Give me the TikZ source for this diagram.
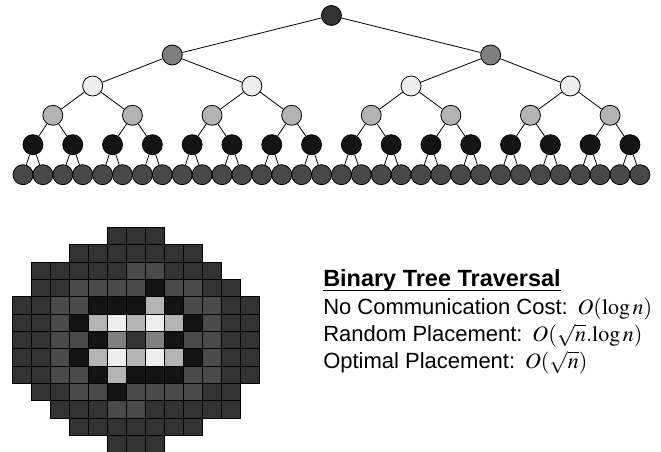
\documentclass[tikz,border=0pt]{standalone}
\usepackage{mathptmx}
\usepackage[no-math]{fontspec}
\usepackage{xcolor}
\newfontfamily\arialfont{Liberation Sans}

\definecolor{tr0}{HTML}{333333}
\definecolor{tr1}{HTML}{7F7F7F}
\definecolor{tr2}{HTML}{EEEEEE}
\definecolor{tr3}{HTML}{B3B3B3}
\definecolor{tr4}{HTML}{141414}
\definecolor{tr5}{HTML}{484848}
\definecolor{gd}{HTML}{333333}
\definecolor{gm}{HTML}{4A4A4A}
\definecolor{gk}{HTML}{141414}
\definecolor{gl}{HTML}{B4B4B4}
\definecolor{gw}{HTML}{EEEEEE}
\definecolor{gg}{HTML}{808080}

\tikzset{
	vertex/.style={circle, draw=black, line width=0.6pt, minimum size=15pt, inner sep=0pt},
	branch/.style={line width=0.6pt},
	cell/.style={draw=black, line width=0.6pt},
	cost/.style={anchor=base west, inner sep=0pt, font=\arialfont\fontsize{16.5}{20}\selectfont},
}

\begin{document}
\begin{tikzpicture}[x=0.75pt, y=-0.75pt]
			\useasboundingbox (0,0) rectangle (661,452);
			% tree, level by level
			\foreach \lev/\yy/\col in {0/15.5/tr0, 1/55/tr1, 2/86/tr2, 3/115.3/tr3, 4/144.7/tr4, 5/174.7/tr5} {
				\pgfmathtruncatemacro{\num}{2^\lev-1}
				\pgfmathtruncatemacro{\cover}{2^(5-\lev)}
				\foreach \i in {0,...,\num} {
					\pgfmathsetmacro{\xx}{23+19.9*(\i*\cover+(\cover-1)/2)}
					\node[vertex, fill=\col] (n-\lev-\i) at (\xx,\yy) {};
				}
			}
			\foreach \lev in {0,...,4} {
				\pgfmathtruncatemacro{\num}{2^\lev-1}
				\pgfmathtruncatemacro{\nlev}{\lev+1}
				\foreach \i in {0,...,\num} {
					\pgfmathtruncatemacro{\a}{2*\i}
					\pgfmathtruncatemacro{\b}{2*\i+1}
					\draw[branch] (n-\lev-\i) -- (n-\nlev-\a);
					\draw[branch] (n-\lev-\i) -- (n-\nlev-\b);
				}
			}
			% mesh placement
			\foreach \r/\s/\cells in {
					0/5/{d,d,d},
					1/3/{d,d,d,d,d,d,d},
					2/1/{d,d,d,d,d,m,m,d,d,d},
					3/1/{d,d,m,m,m,m,k,m,m,d,d},
					4/0/{d,d,m,m,k,k,k,l,k,m,m,d,d},
					5/0/{d,d,m,k,l,w,l,w,l,k,m,d,d},
					6/0/{d,d,m,m,k,g,d,g,k,m,m,d,d},
					7/0/{d,d,m,k,l,w,l,w,l,k,m,d,d},
					8/0/{d,d,m,m,k,l,k,k,k,m,m,d,d},
					9/1/{d,d,m,m,k,m,m,m,m,d,d},
					10/2/{d,d,d,m,m,d,d,d,d,d},
					11/3/{d,d,d,d,d,d,d},
					12/5/{d,d,d}} {
				\foreach \c [count=\j from 0] in \cells {
					\filldraw[cell, fill=g\c] ({12.7+19*(\s+\j)},{227.3+17.35*\r}) rectangle ++(19,17.35);
				}
			}
			% costs
			\node[cost, font=\arialfont\bfseries\fontsize{17.6}{20}\selectfont] (title) at (323,286.7) {Binary Tree Traversal};
			\draw[line width=1.3pt] ([yshift=-2.8pt]title.base west) -- ([yshift=-2.8pt]title.base east);
			\node[cost] (nocost) at (323,314.3) {No Communication Cost:~\,$O(\log n)$};
			\node[cost] (random) at (323,341.7) {Random Placement:~\,$O{\left(\sqrt{n}.\mathrm{log}\,n\right)}$};
			\node[cost] (optimal) at (323,368.7) {Optimal Placement:~\,$O{\left(\sqrt{n}\right)}$};
\end{tikzpicture}
\end{document}
